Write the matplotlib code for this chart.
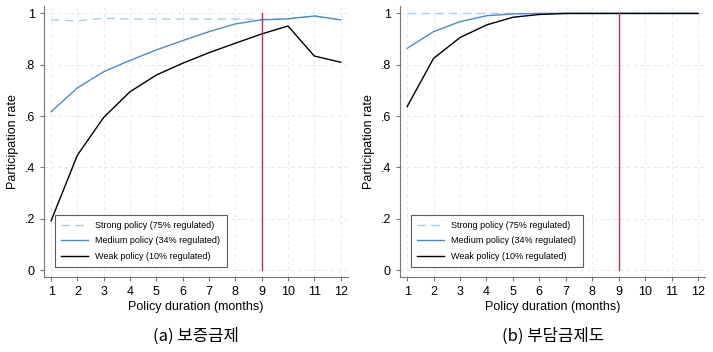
import matplotlib
matplotlib.use("Agg")
import matplotlib.pyplot as plt
import numpy as np

plt.rcParams['font.family'] = ['Liberation Sans', 'DejaVu Sans']

months = list(range(1, 13))

# (a) 보증금제
a_strong = [0.975, 0.971, 0.981, 0.978, 0.978, 0.978, 0.978, 0.978, 0.977, 0.979, 0.990, 0.975]
a_medium = [0.617, 0.710, 0.773, 0.817, 0.858, 0.894, 0.929, 0.959, 0.975, 0.979, 0.990, 0.975]
a_weak = [0.192, 0.448, 0.595, 0.695, 0.760, 0.806, 0.847, 0.884, 0.920, 0.951, 0.834, 0.810]

# (b) 부담금제도
b_strong = [1.0] * 12
b_medium = [0.864, 0.929, 0.968, 0.991, 0.998, 1.0, 1.0, 1.0, 1.0, 1.0, 1.0, 1.0]
b_weak = [0.637, 0.825, 0.906, 0.955, 0.985, 0.996, 1.0, 1.0, 1.0, 1.0, 1.0, 1.0]

labels = ["Strong policy (75% regulated)", "Medium policy (34% regulated)", "Weak policy (10% regulated)"]
captions = ["(a) 보증금제", "(b) 부담금제도"]
cutoff = 9

fig = plt.figure(figsize=(7.13, 3.52), dpi=100)
ax1 = fig.add_axes([0.0617, 0.213, 0.426, 0.770])
ax2 = fig.add_axes([0.561, 0.213, 0.428, 0.770])

for ax, s, m, w, cap in [(ax1, a_strong, a_medium, a_weak, captions[0]),
                         (ax2, b_strong, b_medium, b_weak, captions[1])]:
    ax.grid(True, color='#e4e4e4', linestyle=(0, (4, 4)), linewidth=0.6)
    ax.set_axisbelow(True)
    ax.plot(months, s, color='#a9cde9', linestyle=(0, (6, 4)), linewidth=1.0, label=labels[0])
    ax.plot(months, m, color='#4a8ad2', linewidth=1.0, label=labels[1])
    ax.plot(months, w, color='black', linewidth=1.0, label=labels[2])
    ax.plot([cutoff, cutoff], [0, 1], color='#b0344f', linewidth=1.0)
    ax.set_xlim(0.73, 12.27)
    ax.set_ylim(-0.027, 1.029)
    ax.set_xticks(months)
    ax.set_yticks([0, 0.2, 0.4, 0.6, 0.8, 1.0])
    ax.set_yticklabels(["0", ".2", ".4", ".6", ".8", "1"])
    for side in ['top', 'right']:
        ax.spines[side].set_visible(False)
    for side in ['left', 'bottom']:
        ax.spines[side].set_color('#777777')
        ax.spines[side].set_linewidth(0.8)
    ax.tick_params(axis='both', colors='#777777', labelcolor='black', labelsize=9, length=3, width=0.8)
    ax.set_xlabel("Policy duration (months)", fontsize=9, labelpad=2)
    ax.set_ylabel("Participation rate", fontsize=9, labelpad=4)
    leg = ax.legend(loc='lower left', bbox_to_anchor=(0.02, 0.02), fontsize=6.5, frameon=True,
                    fancybox=False, edgecolor='#333333', handlelength=3.0, borderpad=0.7,
                    labelspacing=0.7)
    leg.get_frame().set_linewidth(0.8)
    ax.text(0.5, -0.185, cap, transform=ax.transAxes, ha='center', va='top', fontsize=12,
            family=['Noto Sans CJK KR', 'DejaVu Sans'])

fig.savefig("out.png", dpi=100)
